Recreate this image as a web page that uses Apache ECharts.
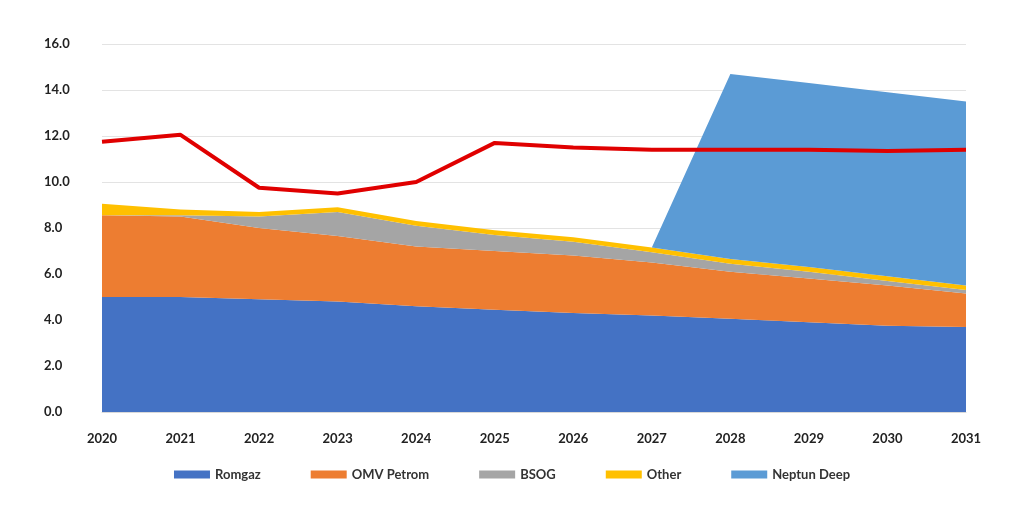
<!DOCTYPE html>
<html lang="en">
	<head>
		<meta charset="UTF-8" />
		<title>Gas production</title>
	</head>
	<body style="margin: 0; background: #fff">
		<div id="main" style="width: 1024px; height: 520px"></div>
		<script src="https://cdn.jsdelivr.net/npm/echarts@6/dist/echarts.min.js"></script>
		<script>
			var myChart = echarts.init(document.getElementById("main"));

			var years = ["2020", "2021", "2022", "2023", "2024", "2025", "2026", "2027", "2028", "2029", "2030", "2031"];
			var romgaz = [5.0, 5.0, 4.9, 4.8, 4.6, 4.45, 4.3, 4.2, 4.05, 3.9, 3.75, 3.7];
			var omv = [3.55, 3.5, 3.1, 2.85, 2.6, 2.55, 2.5, 2.3, 2.05, 1.9, 1.75, 1.45];
			var bsog = [0, 0.05, 0.5, 1.05, 0.9, 0.7, 0.6, 0.45, 0.35, 0.3, 0.2, 0.15];
			var other = [0.5, 0.25, 0.2, 0.2, 0.2, 0.2, 0.2, 0.2, 0.2, 0.2, 0.2, 0.2];
			var neptun = [null, null, null, null, null, null, null, 0, 8.05, 8.0, 8.0, 8.0];
			var demand = [11.75, 12.05, 9.75, 9.5, 10.0, 11.7, 11.5, 11.4, 11.4, 11.4, 11.35, 11.4];

			function area(name, data, color) {
				return {
					name: name,
					type: "line",
					stack: "prod",
					data: data,
					symbol: "none",
					lineStyle: { width: 0 },
					itemStyle: { color: color },
					areaStyle: { color: color, opacity: 1 },
				};
			}

			var option = {
				textStyle: { fontFamily: "Lato" },
				grid: { left: 102, right: 58, top: 44, bottom: 108 },
				legend: {
					bottom: 34,
					itemWidth: 36,
					itemHeight: 8,
					itemGap: 50,
					textStyle: { fontSize: 13, fontWeight: "bold", color: "#333" },
					data: [
						{ name: "Romgaz", icon: "rect" },
						{ name: "OMV Petrom", icon: "rect" },
						{ name: "BSOG", icon: "rect" },
						{ name: "Other", icon: "rect" },
						{ name: "Neptun Deep", icon: "rect" },
					],
				},
				xAxis: {
					type: "category",
					data: years,
					boundaryGap: false,
					axisLine: { lineStyle: { color: "#d9d9d9" } },
					axisTick: { show: false },
					axisLabel: { fontSize: 13, fontWeight: "bold", color: "#222", margin: 20 },
				},
				yAxis: {
					type: "value",
					min: 0,
					max: 16,
					interval: 2,
					axisLabel: {
						fontSize: 13,
						fontWeight: "bold",
						color: "#222",
						margin: 58,
						align: "left",
						formatter: function (v) {
							return v.toFixed(1);
						},
					},
					splitLine: { lineStyle: { color: "#e3e3e3" } },
				},
				series: [
					area("Romgaz", romgaz, "#4472C4"),
					area("OMV Petrom", omv, "#ED7D31"),
					area("BSOG", bsog, "#A5A5A5"),
					area("Other", other, "#FFC000"),
					area("Neptun Deep", neptun, "#5B9BD5"),
					{
						name: "Demand",
						type: "line",
						data: demand,
						symbol: "none",
						lineStyle: { width: 4, color: "#E00000" },
						z: 5,
					},
				],
			};

			myChart.setOption(option);
		</script>
	</body>
</html>
